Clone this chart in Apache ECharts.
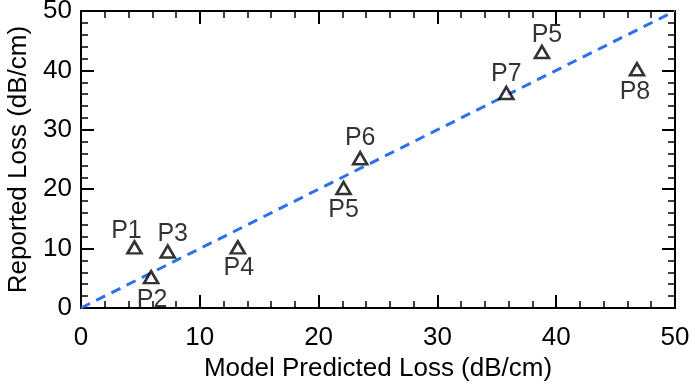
<!DOCTYPE html>
<html>
<head>
<meta charset="utf-8">
<script src="https://cdn.jsdelivr.net/npm/echarts@6/dist/echarts.min.js"></script>
<style>html,body{margin:0;padding:0;background:#fff}#c{width:691px;height:385px}</style>
</head>
<body>
<div id="c"></div>
<script>
// Data
const pointNames = ['P1','P2','P3','P4','P5','P6','P7','P5','P8'];
const predicted  = [4.5, 5.9, 7.3, 13.2, 22.1, 23.5, 35.8, 38.8, 46.8];
const reported   = [10.2, 5.2, 9.5, 10.2, 20.2, 25.2, 36.2, 43.1, 40.2];
const refLineX = [0, 50];
const refLineY = [0, 50];
const xTicks = [0, 10, 20, 30, 40, 50];
const yTicks = [0, 10, 20, 30, 40, 50];

// Label placement (styling only)
const labelPlace = [
  {position:'top', offset:[-8,3]},
  {position:'bottom', offset:[1,0]},
  {position:'top', offset:[5,2]},
  {position:'bottom', offset:[1,-2]},
  {position:'bottom', offset:[0,-1]},
  {position:'top', offset:[0,0]},
  {position:'top', offset:[0,1]},
  {position:'top', offset:[5,3]},
  {position:'bottom', offset:[-2,0]}
];

const font = 'Liberation Sans';
const chart = echarts.init(document.getElementById('c'), null, {renderer:'canvas'});

function axisCommon(show, pos) {
  return {
    type:'value', min:0, max:50, interval:10, position:pos,
    axisLine:{show:true, onZero:false, lineStyle:{color:'#000', width:2}},
    axisTick:{show:true, inside:true, length:13, lineStyle:{color:'#000', width:2}},
    minorTick:{show:true, splitNumber:5, length:7, lineStyle:{color:'#000', width:1.5}},
    splitLine:{show:false},
    axisLabel:{show:show, color:'#000', fontSize:26, fontFamily:font, margin:pos==='bottom'?17:9}
  };
}

const xBottom = Object.assign(axisCommon(true,'bottom'), {
  name:'Model Predicted Loss (dB/cm)', nameLocation:'middle', nameGap:48,
  nameTextStyle:{color:'#000', fontSize:26, fontFamily:font}
});
const xTop = axisCommon(false,'top');
const yLeft = Object.assign(axisCommon(true,'left'), {
  name:'Reported Loss (dB/cm)', nameLocation:'middle', nameGap:45,
  nameTextStyle:{color:'#000', fontSize:26, fontFamily:font}
});
const yRight = axisCommon(false,'right');

chart.setOption({
  animation:false,
  grid:{left:81, right:16, top:11, bottom:77, containLabel:false, outerBoundsMode:'none'},
  xAxis:[xBottom, xTop],
  yAxis:[yLeft, yRight],
  series:[
    {
      type:'line', xAxisIndex:0, yAxisIndex:0,
      data: refLineX.map((x,i)=>[x, refLineY[i]]),
      symbol:'none',
      lineStyle:{color:'#2e6ff0', width:3, type:[10,7]},
      z:1
    },
    {
      type:'scatter', xAxisIndex:0, yAxisIndex:0,
      symbol:'triangle', symbolSize:[14,12],
      itemStyle:{color:'#fff', borderColor:'#000', borderWidth:2.6},
      data: predicted.map((x,i)=>({
        value:[x, reported[i]], name:pointNames[i],
        label:{show:true, formatter:pointNames[i], position:labelPlace[i].position,
               offset:labelPlace[i].offset, distance:labelPlace[i].position==='top'?0:3,
               color:'#000', fontSize:25, fontFamily:font}
      })),
      z:3
    }
  ]
});
</script>
</body>
</html>
